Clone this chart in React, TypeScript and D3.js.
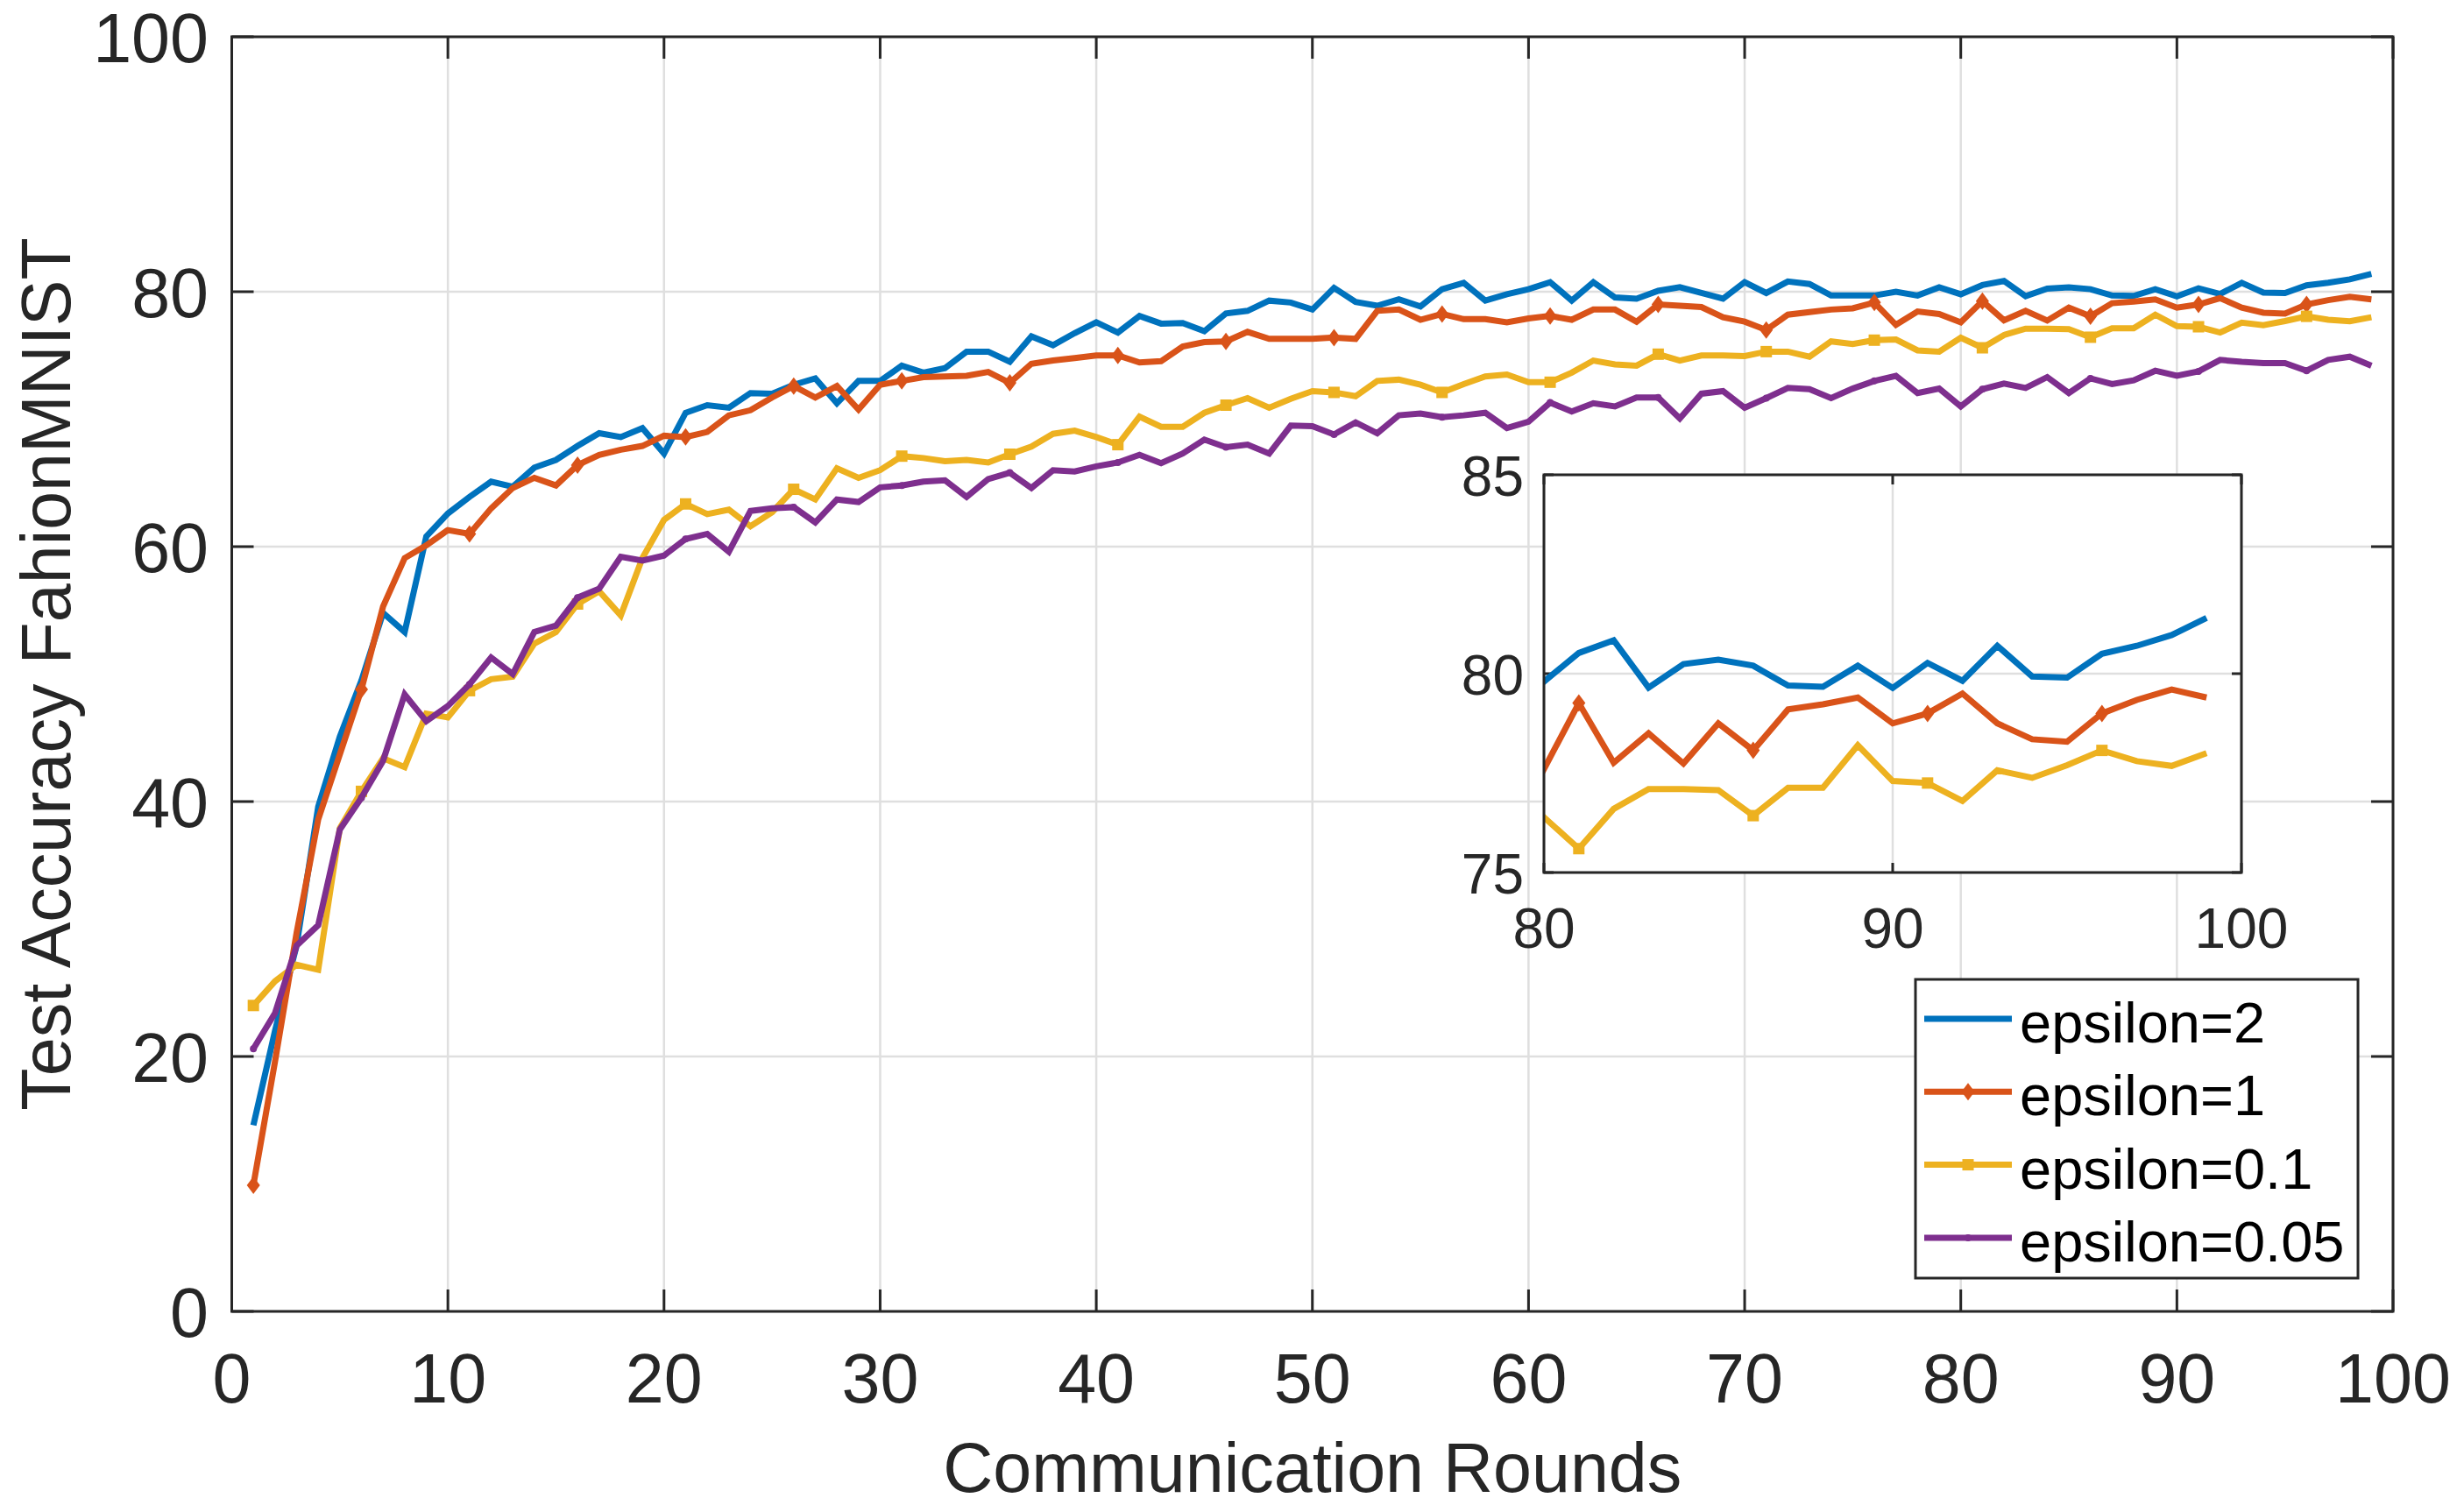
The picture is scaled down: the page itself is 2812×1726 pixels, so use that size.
import React from 'react'
import * as d3 from 'd3'

// Test accuracy per communication round (rounds 1..99)
const epsilon2 = [
  14.6, 22.0, 28.7, 39.6, 45.1, 49.5, 54.8, 53.3, 60.8, 62.6,
  63.9, 65.1, 64.7, 66.2, 66.8, 67.9, 68.9, 68.6, 69.3, 67.3,
  70.5, 71.1, 70.9, 72.05, 72.0, 72.7, 73.2, 71.25, 73.0, 73.0,
  74.2, 73.65, 74.0, 75.3, 75.3, 74.5, 76.5, 75.8, 76.75, 77.6,
  76.8, 78.1, 77.5, 77.55, 76.9, 78.3, 78.5, 79.3, 79.15, 78.6,
  80.3, 79.2, 78.9, 79.4, 78.85, 80.2, 80.7, 79.3, 79.8, 80.2,
  80.75, 79.3, 80.75, 79.55, 79.45, 80.07, 80.35, 79.9, 79.45, 80.75,
  79.9, 80.8, 80.6, 79.7, 79.7, 79.7, 80.0, 79.7, 80.35, 79.8,
  80.52, 80.84, 79.65, 80.24, 80.35, 80.2, 79.7, 79.67, 80.2, 79.64,
  80.27, 79.82, 80.7, 79.93, 79.9, 80.5, 80.7, 80.97, 81.4,
]
const epsilon1 = [
  9.9, 19.6, 29.7, 38.6, 43.7, 48.8, 55.3, 59.1, 60.1, 61.3,
  61.0, 63.0, 64.6, 65.4, 64.8, 66.4, 67.2, 67.6, 67.9, 68.7,
  68.6, 69.0, 70.3, 70.7, 71.7, 72.6, 71.7, 72.6, 70.75, 72.7,
  73.0, 73.3, 73.35, 73.4, 73.7, 72.85, 74.35, 74.6, 74.8, 75.0,
  75.0, 74.45, 74.55, 75.7, 76.05, 76.1, 76.85, 76.3, 76.3, 76.3,
  76.4, 76.3, 78.5, 78.6, 77.8, 78.25, 77.85, 77.85, 77.6, 77.9,
  78.1, 77.8, 78.6, 78.6, 77.65, 79.0, 78.9, 78.8, 78.0, 77.65,
  77.0, 78.2, 78.4, 78.6, 78.7, 79.15, 77.4, 78.45, 78.25, 77.6,
  79.26, 77.76, 78.5, 77.74, 78.75, 78.07, 79.1, 79.23, 79.4, 78.75,
  79.0, 79.5, 78.75, 78.35, 78.29, 79.0, 79.34, 79.6, 79.4,
]
const epsilon01 = [
  24.0, 25.9, 27.2, 26.8, 37.9, 40.8, 43.4, 42.7, 46.9, 46.6,
  48.7, 49.6, 49.8, 52.4, 53.3, 55.5, 56.5, 54.6, 59.1, 62.1,
  63.35, 62.55, 62.9, 61.6, 62.7, 64.5, 63.7, 66.15, 65.4, 66.0,
  67.1, 66.95, 66.7, 66.8, 66.6, 67.25, 67.85, 68.85, 69.1, 68.6,
  68.0, 70.2, 69.4, 69.4, 70.5, 71.1, 71.65, 70.9, 71.6, 72.2,
  72.1, 71.8, 73.0, 73.1, 72.7, 72.1, 72.75, 73.35, 73.5, 72.9,
  72.9, 73.65, 74.6, 74.3, 74.2, 75.1, 74.6, 75.0, 75.0, 74.95,
  75.3, 75.3, 74.9, 76.1, 75.9, 76.2, 76.25, 75.4, 75.3, 76.39,
  75.6, 76.6, 77.1, 77.1, 77.07, 76.43, 77.13, 77.13, 78.2, 77.3,
  77.25, 76.8, 77.57, 77.38, 77.7, 78.07, 77.8, 77.68, 78.0,
]
const epsilon005 = [
  20.6, 23.4, 28.7, 30.3, 37.8, 40.3, 43.2, 48.4, 46.3, 47.5,
  49.2, 51.3, 50.0, 53.3, 53.8, 56.0, 56.7, 59.2, 58.9, 59.3,
  60.6, 61.0, 59.6, 62.8, 63.0, 63.1, 61.9, 63.7, 63.5, 64.65,
  64.8, 65.1, 65.2, 63.9, 65.3, 65.8, 64.6, 66.0, 65.9, 66.3,
  66.6, 67.2, 66.55, 67.3, 68.4, 67.8, 68.0, 67.3, 69.5, 69.45,
  68.8, 69.75, 68.9, 70.3, 70.45, 70.15, 70.3, 70.5, 69.3, 69.8,
  71.3, 70.6, 71.25, 71.0, 71.7, 71.7, 70.05, 72.0, 72.2, 70.9,
  71.65, 72.45, 72.35, 71.65, 72.4, 73.0, 73.4, 72.05, 72.4, 71.0,
  72.35, 72.8, 72.45, 73.3, 72.05, 73.2, 72.75, 73.05, 73.8, 73.4,
  73.75, 74.65, 74.5, 74.4, 74.4, 73.8, 74.65, 74.9, 74.2,
]

const seriesNames = ['epsilon=2', 'epsilon=1', 'epsilon=0.1', 'epsilon=0.05']
const seriesValues = [epsilon2, epsilon1, epsilon01, epsilon005]
const seriesColors = ['#0072BD', '#D95319', '#EDB120', '#7E2F8E']
const seriesMarkers = ['none', 'diamond', 'square', 'point']
const rounds = epsilon2.map((_, i) => i + 1)

const xTicks = [0, 10, 20, 30, 40, 50, 60, 70, 80, 90, 100]
const yTicks = [0, 20, 40, 60, 80, 100]
const insetXTicks = [80, 90, 100]
const insetYTicks = [75, 80, 85]

const W = 2812
const H = 1726
const FONT = '"Liberation Sans", Arial, Helvetica, sans-serif'
const AXIS = '#262626'
const GRID = '#dfdfdf'

type G = d3.Selection<SVGGElement, unknown, null, undefined>

function drawMarker(g: G, kind: string, cx: number, cy: number, color: string) {
  if (kind === 'diamond') {
    g.append('path')
      .attr('d', `M${cx},${cy - 10}L${cx + 7.5},${cy}L${cx},${cy + 10}L${cx - 7.5},${cy}Z`)
      .attr('fill', color)
  } else if (kind === 'square') {
    g.append('rect')
      .attr('x', cx - 6.5).attr('y', cy - 6.5)
      .attr('width', 13).attr('height', 13)
      .attr('fill', color)
  } else if (kind === 'point') {
    g.append('circle').attr('cx', cx).attr('cy', cy).attr('r', 4).attr('fill', color)
  }
}

function drawSeries(g: G, x: d3.ScaleLinear<number, number>, y: d3.ScaleLinear<number, number>) {
  seriesValues.forEach((vals, s) => {
    const line = d3.line<number>()
      .x((_, i) => x(rounds[i]))
      .y((d) => y(d))
    g.append('path')
      .attr('d', line(vals) || '')
      .attr('fill', 'none')
      .attr('stroke', seriesColors[s])
      .attr('stroke-width', 7)
      .attr('stroke-linejoin', 'miter')
      .attr('stroke-miterlimit', 3)
    // markers every 5th point, starting at the first
    vals.forEach((v, i) => {
      if (i % 5 === 0) drawMarker(g, seriesMarkers[s], x(rounds[i]), y(v), seriesColors[s])
    })
  })
}

const App = () => {
  const ref = React.useRef<SVGSVGElement | null>(null)

  React.useEffect(() => {
    const svg = d3.select(ref.current)
    svg.selectAll('*').remove()

    const L = 264.5, R = 2731, T = 42, B = 1497
    const x = d3.scaleLinear().domain([0, 100]).range([L, R])
    const y = d3.scaleLinear().domain([0, 100]).range([B, T])

    svg.append('rect').attr('width', W).attr('height', H).attr('fill', '#fff')

    const main = svg.append('g')

    // grid
    main.selectAll('.gx').data(xTicks).enter().append('line')
      .attr('x1', (d) => x(d)).attr('x2', (d) => x(d))
      .attr('y1', T).attr('y2', B)
      .attr('stroke', GRID).attr('stroke-width', 2.5)
    main.selectAll('.gy').data(yTicks).enter().append('line')
      .attr('x1', L).attr('x2', R)
      .attr('y1', (d) => y(d)).attr('y2', (d) => y(d))
      .attr('stroke', GRID).attr('stroke-width', 2.5)

    // ticks (inside, on all four sides)
    const tl = 25
    xTicks.forEach((t) => {
      main.append('line').attr('x1', x(t)).attr('x2', x(t)).attr('y1', B).attr('y2', B - tl)
        .attr('stroke', AXIS).attr('stroke-width', 3)
      main.append('line').attr('x1', x(t)).attr('x2', x(t)).attr('y1', T).attr('y2', T + tl)
        .attr('stroke', AXIS).attr('stroke-width', 3)
      main.append('text').attr('x', x(t)).attr('y', B + 104)
        .attr('text-anchor', 'middle').attr('font-size', 79).attr('font-family', FONT)
        .attr('fill', AXIS).text(t)
    })
    yTicks.forEach((t) => {
      main.append('line').attr('x1', L).attr('x2', L + tl).attr('y1', y(t)).attr('y2', y(t))
        .attr('stroke', AXIS).attr('stroke-width', 3)
      main.append('line').attr('x1', R).attr('x2', R - tl).attr('y1', y(t)).attr('y2', y(t))
        .attr('stroke', AXIS).attr('stroke-width', 3)
      main.append('text').attr('x', 238).attr('y', y(t) + 29)
        .attr('text-anchor', 'end').attr('font-size', 79).attr('font-family', FONT)
        .attr('fill', AXIS).text(t)
    })

    drawSeries(main, x, y)

    main.append('rect').attr('x', L).attr('y', T).attr('width', R - L).attr('height', B - T)
      .attr('fill', 'none').attr('stroke', AXIS).attr('stroke-width', 3)

    // axis labels
    main.append('text').attr('x', (L + R) / 2).attr('y', 1703)
      .attr('text-anchor', 'middle').attr('font-size', 79).attr('font-family', FONT)
      .attr('fill', AXIS).text('Communication Rounds')
    main.append('text').attr('transform', `translate(80,${(T + B) / 2}) rotate(-90)`)
      .attr('text-anchor', 'middle').attr('font-size', 79).attr('font-family', FONT)
      .attr('fill', AXIS).text('Test Accuracy FahionMNIST')

    // inset
    const iL = 1762, iR = 2558, iT = 542, iB = 996
    const xi = d3.scaleLinear().domain([80, 100]).range([iL, iR])
    const yi = d3.scaleLinear().domain([75, 85]).range([iB, iT])
    const inset = svg.append('g')
    inset.append('rect').attr('x', iL).attr('y', iT).attr('width', iR - iL).attr('height', iB - iT)
      .attr('fill', '#fff')
    svg.append('defs').append('clipPath').attr('id', 'insetClip')
      .append('rect').attr('x', iL).attr('y', iT).attr('width', iR - iL).attr('height', iB - iT)
    insetXTicks.forEach((t) => {
      inset.append('line').attr('x1', xi(t)).attr('x2', xi(t)).attr('y1', iT).attr('y2', iB)
        .attr('stroke', GRID).attr('stroke-width', 2.5)
    })
    insetYTicks.forEach((t) => {
      inset.append('line').attr('x1', iL).attr('x2', iR).attr('y1', yi(t)).attr('y2', yi(t))
        .attr('stroke', GRID).attr('stroke-width', 2.5)
    })
    const it = 11
    insetXTicks.forEach((t) => {
      inset.append('line').attr('x1', xi(t)).attr('x2', xi(t)).attr('y1', iB).attr('y2', iB - it)
        .attr('stroke', AXIS).attr('stroke-width', 3)
      inset.append('line').attr('x1', xi(t)).attr('x2', xi(t)).attr('y1', iT).attr('y2', iT + it)
        .attr('stroke', AXIS).attr('stroke-width', 3)
      inset.append('text').attr('x', xi(t)).attr('y', iB + 86)
        .attr('text-anchor', 'middle').attr('font-size', 64).attr('font-family', FONT)
        .attr('fill', AXIS).text(t)
    })
    insetYTicks.forEach((t) => {
      inset.append('line').attr('x1', iL).attr('x2', iL + it).attr('y1', yi(t)).attr('y2', yi(t))
        .attr('stroke', AXIS).attr('stroke-width', 3)
      inset.append('line').attr('x1', iR).attr('x2', iR - it).attr('y1', yi(t)).attr('y2', yi(t))
        .attr('stroke', AXIS).attr('stroke-width', 3)
      inset.append('text').attr('x', 1739).attr('y', yi(t) + 24)
        .attr('text-anchor', 'end').attr('font-size', 64).attr('font-family', FONT)
        .attr('fill', AXIS).text(t)
    })
    const insetData = inset.append('g').attr('clip-path', 'url(#insetClip)')
    drawSeries(insetData, xi, yi)
    inset.append('rect').attr('x', iL).attr('y', iT).attr('width', iR - iL).attr('height', iB - iT)
      .attr('fill', 'none').attr('stroke', AXIS).attr('stroke-width', 3)

    // legend
    const lg = svg.append('g')
    lg.append('rect').attr('x', 2186).attr('y', 1118).attr('width', 505).attr('height', 341)
      .attr('fill', '#fff').attr('stroke', AXIS).attr('stroke-width', 3)
    seriesNames.forEach((name, s) => {
      const ry = 1163 + s * 83.3
      lg.append('line').attr('x1', 2196).attr('x2', 2296).attr('y1', ry).attr('y2', ry)
        .attr('stroke', seriesColors[s]).attr('stroke-width', 7)
      drawMarker(lg, seriesMarkers[s], 2246, ry, seriesColors[s])
      lg.append('text').attr('x', 2305).attr('y', ry + 27)
        .attr('font-size', 65).attr('font-family', FONT).attr('fill', '#000').text(name)
    })
  }, [])

  return (
    <svg ref={ref} width={W} height={H}
      style={{ position: 'absolute', left: 0, top: 0, display: 'block' }} />
  )
}

export default App
